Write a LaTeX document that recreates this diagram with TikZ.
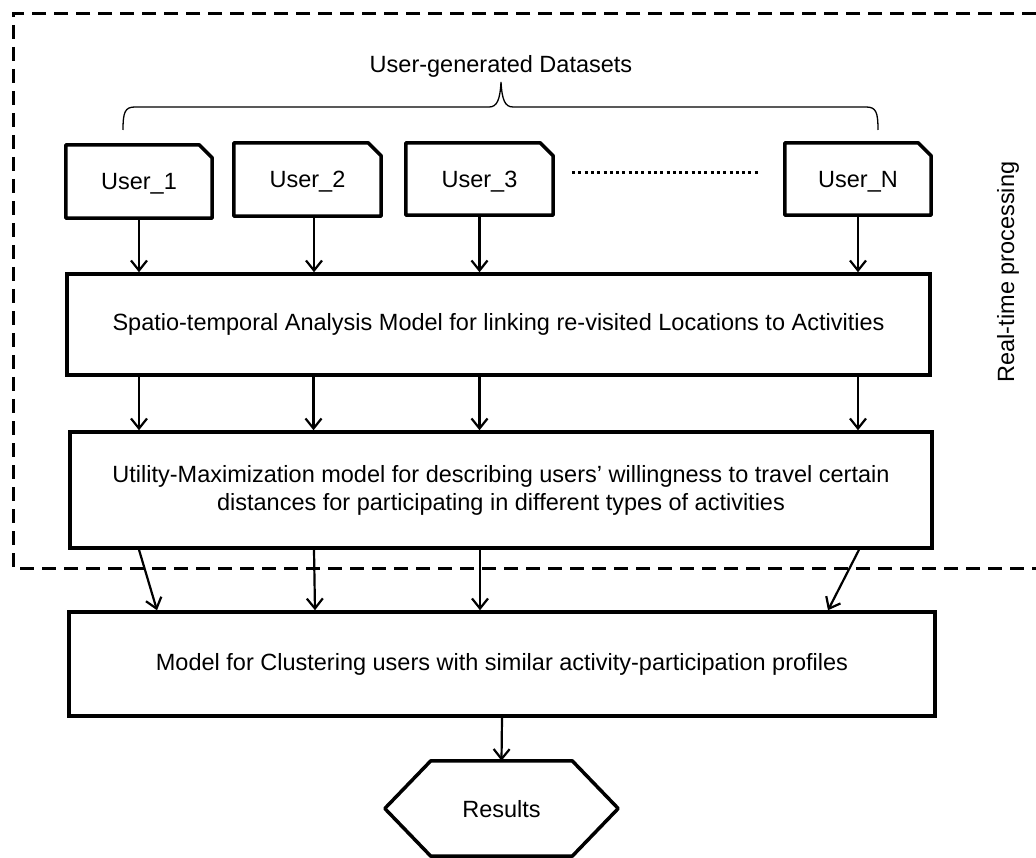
\documentclass[tikz,border=0pt]{standalone}
\usepackage{fontspec}
\setmainfont{Liberation Sans}
\usetikzlibrary{arrows.meta}
\begin{document}
\begin{tikzpicture}[x=1pt,y=-1pt,
  txt/.style={font=\fontsize{23.5}{28}\selectfont, inner sep=0pt},
  box/.style={draw, line width=3.5pt, txt, align=center},
  ubox/.style={txt, text depth=0pt, minimum width=146pt, minimum height=73pt},
  uline/.style={line width=3.5pt, line join=round},
  arr/.style={line width=2.2pt, -{Straight Barb[length=10pt,width=16pt,line width=2.2pt]}},
  frame/.style={line width=3pt, dash pattern=on 14pt off 8pt},
  dots/.style={line width=3pt, dash pattern=on 3pt off 3.3pt},
  bracel/.style={line width=1.3pt},
]
\useasboundingbox (0,0) rectangle (1036,858);
% frame
\draw[frame] (1036,14) -- (13,14) -- (13,568) -- (1036,568);
% title + brace
\node[txt] (title) at (501,66) {User-generated Datasets};
\draw[bracel] (123,130) .. controls (123,112) and (125,107) .. (135,107) -- (489,107)
  .. controls (497,107) and (500,100) .. (501,82)
  .. controls (502,100) and (505,107) .. (513,107) -- (866,107)
  .. controls (876,107) and (878,112) .. (878,130);
% user boxes
\node[ubox] (u1) at (139,181.5) {User\_1\hspace{8pt}};
\node[ubox, minimum width=147pt] (u2) at (307.5,179.5) {User\_2\hspace{8pt}};
\node[ubox, minimum width=147pt, minimum height=72pt] (u3) at (479.5,179) {User\_3\hspace{8pt}};
\node[ubox, minimum height=72pt] (uN) at (858,179) {User\_N\hspace{8pt}};
\foreach \n in {u1,u2,u3,uN}{
  \draw[uline] (\n.south west) -- (\n.north west) -- ([xshift=-13pt]\n.north east)
    -- ([yshift=-13pt]\n.north east) -- (\n.south east) -- cycle;
}
\coordinate (d1) at (572,173);
\coordinate (d2) at (758,173);
\draw[dots] (d1) -- (d2);
% main boxes
\node[box, minimum width=863pt, minimum height=101pt] (sp) at (498.5,324.5)
  {Spatio-temporal Analysis Model for linking re-visited Locations to Activities};
\node[box, minimum width=862pt, minimum height=116pt] (ut) at (501,490)
  {Utility-Maximization model for describing users’ willingness to travel certain\\distances for participating in different types of activities};
\node[box, minimum width=866pt, minimum height=104pt] (md) at (502,664)
  {Model for Clustering users with similar activity-participation profiles};
\node[txt, text depth=0pt, minimum width=233pt, minimum height=95pt] (res) at (501.5,808.5) {Results};
\draw[uline] (res.west) -- ([xshift=46pt]res.north west) -- ([xshift=-46pt]res.north east)
  -- (res.east) -- ([xshift=-46pt]res.south east) -- ([xshift=46pt]res.south west) -- cycle;
\node[txt, rotate=90] (rt) at (1008,272) {Real-time processing};
% arrows users -> spatio
\draw[arr] (u1.south) -- (u1.south |- sp.north);
\draw[arr] ([xshift=6.5pt]u2.south) -- ([xshift=6.5pt]u2.south |- sp.north);
\draw[arr] (u3.south) -- (u3.south |- sp.north);
\draw[arr] (uN.south) -- (uN.south |- sp.north);
% spatio -> utility
\draw[arr] (u1.south |- sp.south) -- (u1.south |- ut.north);
\draw[arr] ([xshift=6pt]u2.south |- sp.south) -- ([xshift=6pt]u2.south |- ut.north);
\draw[arr] (u3.south |- sp.south) -- (u3.south |- ut.north);
\draw[arr] (uN.south |- sp.south) -- (uN.south |- ut.north);
% utility -> model
\draw[arr] (u1.south |- ut.south) -- ([xshift=18pt]u1.south |- md.north);
\draw[arr] ([xshift=6.5pt]u2.south |- ut.south) -- ([xshift=7.5pt]u2.south |- md.north);
\draw[arr] ([xshift=0.5pt]u3.south |- ut.south) -- ([xshift=0.5pt]u3.south |- md.north);
\draw[arr] ([xshift=1pt]uN.south |- ut.south) -- ([xshift=-30pt]uN.south |- md.north);
% model -> results
\draw[arr] (md.south) -- (res.north);
\end{tikzpicture}
\end{document}
